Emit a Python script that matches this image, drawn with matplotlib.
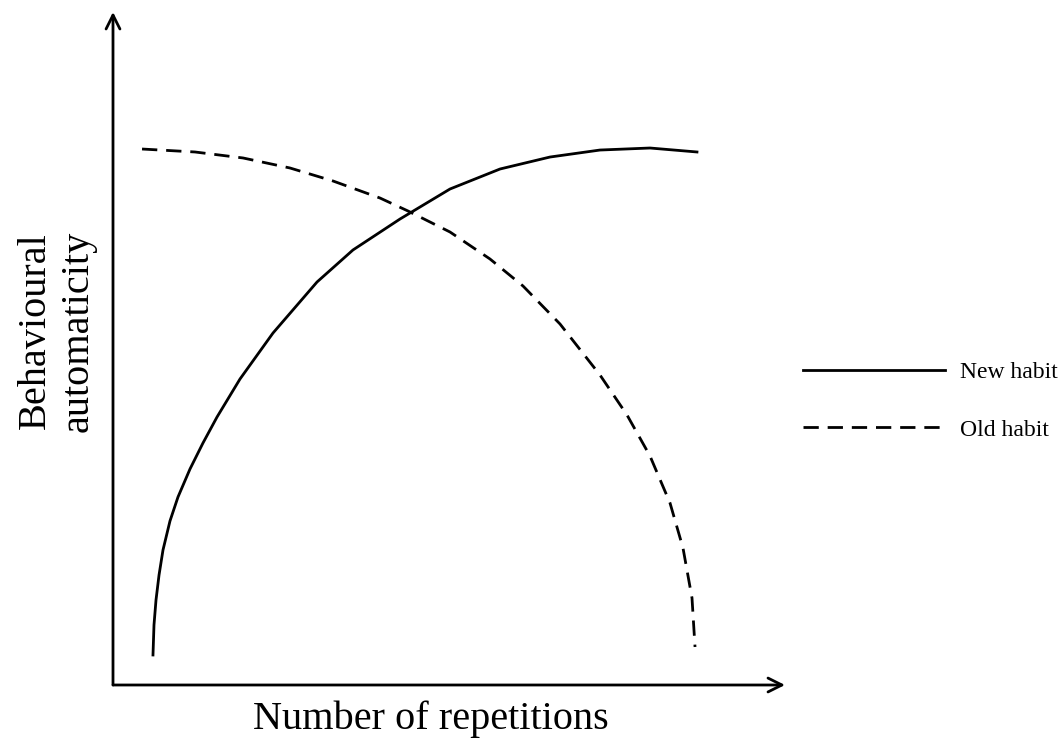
import matplotlib
matplotlib.use("Agg")
import matplotlib.pyplot as plt

# values (arbitrary 0-100 units)
new_x = [5.95, 6.10, 6.40, 6.85, 7.44, 8.48, 9.67, 11.46, 13.39, 15.48, 18.90, 23.81,
         30.36, 35.71, 42.71, 50.15, 57.59, 65.03, 72.47, 79.91, 86.90]
new_y = [4.46, 8.92, 12.63, 16.34, 20.06, 24.37, 27.93, 32.10, 35.96, 39.82, 45.47, 52.30,
         59.88, 64.64, 69.24, 73.70, 76.67, 78.45, 79.49, 79.79, 79.20]

old_x = [4.32, 12.20, 19.35, 26.34, 32.74, 39.73, 43.90, 50.15, 56.10, 61.01, 66.52, 72.47,
         76.49, 79.91, 82.89, 84.82, 86.16, 86.61]
old_y = [79.64, 79.20, 78.31, 76.82, 74.89, 72.36, 70.43, 67.31, 63.30, 59.29, 53.64, 46.06,
         40.12, 34.03, 27.04, 20.36, 12.93, 5.65]

labels = ["New habit", "Old habit"]
x_label = "Number of repetitions"
y_label = "Behavioural\nautomaticity"

plt.rcParams['font.family'] = ['Liberation Serif', 'DejaVu Serif']

fig = plt.figure(figsize=(10.63, 7.45), dpi=100)
ax = fig.add_axes([113 / 1063, 60 / 745, 672 / 1063, 673 / 745])
ax.set_xlim(0, 100)
ax.set_ylim(0, 100)

ax.plot(new_x, new_y, color='black', lw=2.0, label=labels[0], solid_joinstyle='round')
ax.plot(old_x, old_y, color='black', lw=2.0, linestyle=(0, (5.5, 3.2)), label=labels[1])

# axes drawn as arrows
for sp in ax.spines.values():
    sp.set_visible(False)
ax.set_xticks([])
ax.set_yticks([])
arrow = dict(arrowstyle='->', color='black', lw=2.0, mutation_scale=25, shrinkA=0, shrinkB=0)
ax.annotate('', xy=(1, 0), xytext=(0, 0), xycoords='axes fraction', arrowprops=arrow)
ax.annotate('', xy=(0, 1), xytext=(0, 0), xycoords='axes fraction', arrowprops=arrow)

fig.text(431 / 1063, 26 / 745, x_label, ha='center', va='center', fontsize=29)
fig.text(57 / 1063, 414 / 745, y_label, ha='center', va='center', fontsize=29,
         rotation=90, linespacing=1.2)

ax.legend(loc='center left', bbox_to_anchor=(803 / 1063, 344 / 745),
          bbox_transform=fig.transFigure, frameon=False, fontsize=17,
          handlelength=6.0, handletextpad=0.64, labelspacing=1.54,
          borderpad=0, borderaxespad=0)

fig.savefig('out.png', dpi=100)
